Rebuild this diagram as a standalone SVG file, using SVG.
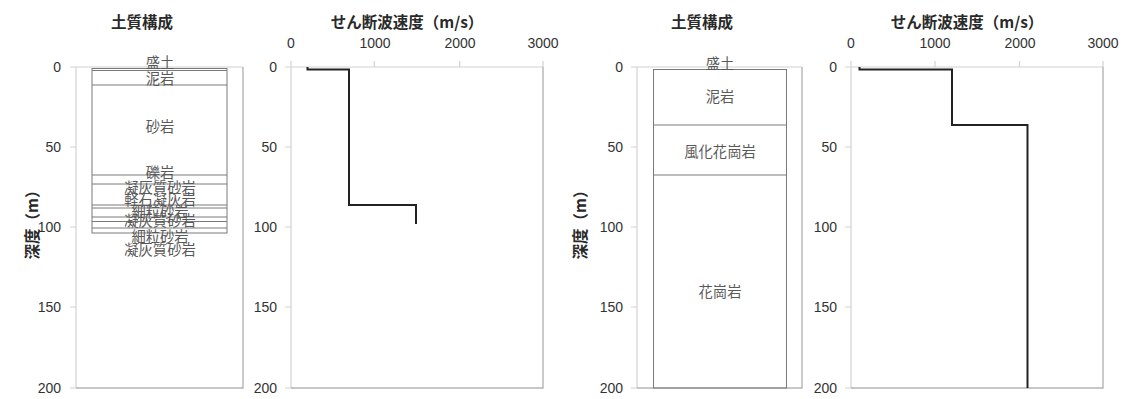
<svg xmlns="http://www.w3.org/2000/svg" width="1127" height="399" viewBox="0 0 1127 399">
<style>
.title{font-family:"Noto Sans CJK JP",sans-serif;font-size:15.5px;font-weight:bold;fill:#2a2a2a}
.tick{font-family:"Liberation Sans",sans-serif;font-size:14px;fill:#333}
.layer{font-family:"Noto Sans CJK JP",sans-serif;font-size:14.3px;fill:#5a5a5a;text-anchor:middle}
.axis{stroke:#d2d2d2;stroke-width:1.2;fill:none}
.frame{stroke:#b4b4b4;stroke-width:1.4;fill:none}
.soil{stroke:#7a7a7a;stroke-width:1;fill:none}
.vs{stroke:#222;stroke-width:2;fill:none;stroke-linejoin:miter}
</style>
<rect width="1127" height="399" fill="#fff"/>

<g id="soil-left">
  <text class="title" x="142" y="28" text-anchor="middle">土質構成</text>
  <text class="title" transform="translate(38,221) rotate(-90)" text-anchor="middle">深度（m）</text>
  <path class="axis" d="M76,67V388M70,67H243M70,147H76M70,227H76M70,307H76M70,388H76"/>
  <path class="frame" d="M243,67V388H76"/>
  <g class="tick" text-anchor="end">
    <text x="61" y="72">0</text><text x="61" y="152">50</text><text x="61" y="232">100</text><text x="61" y="312">150</text><text x="61" y="393">200</text>
  </g>
  <rect class="soil" x="92" y="68.5" width="135" height="164.5"/>
  <path class="soil" d="M92,70.5H227M92,85H227M92,175H227M92,184H227M92,205H227M92,208H227M92,217H227M92,221.5H227M92,228H227"/>
  <text class="layer" x="160" y="68">盛土</text>
  <text class="layer" x="160" y="84">泥岩</text>
  <text class="layer" x="160" y="132">砂岩</text>
  <text class="layer" x="160" y="177.5">礫岩</text>
  <text class="layer" x="160" y="193">凝灰質砂岩</text>
  <text class="layer" x="160" y="205">軽石凝灰岩</text>
  <text class="layer" x="160" y="216.5">細粒砂岩</text>
  <text class="layer" x="160" y="226">凝灰質砂岩</text>
  <text class="layer" x="160" y="241.5">細粒砂岩</text>
  <text class="layer" x="160" y="255">凝灰質砂岩</text>
</g>

<g id="vs-left">
  <text class="title" x="407" y="28" text-anchor="middle">せん断波速度（m/s）</text>
  <path class="axis" d="M291,61V388M285,67H543M374.3,61V67M459.7,61V67M543,61V67M285,147H291M285,227H291M285,307H291M285,388H291"/>
  <path class="frame" d="M543,67V388H291"/>
  <g class="tick" text-anchor="middle">
    <text x="291" y="48">0</text><text x="375" y="48">1000</text><text x="460" y="48">2000</text><text x="543" y="48">3000</text>
  </g>
  <g class="tick" text-anchor="end">
    <text x="277" y="72">0</text><text x="277" y="152">50</text><text x="277" y="232">100</text><text x="277" y="312">150</text><text x="277" y="393">200</text>
  </g>
</g>

<g id="soil-right">
  <text class="title" x="702" y="28" text-anchor="middle">土質構成</text>
  <text class="title" transform="translate(586,221) rotate(-90)" text-anchor="middle">深度（m）</text>
  <path class="axis" d="M637,67V388M631,67H802M631,147H637M631,227H637M631,307H637M631,388H637"/>
  <path class="frame" d="M802,67V388H637"/>
  <g class="tick" text-anchor="end">
    <text x="623" y="72">0</text><text x="623" y="152">50</text><text x="623" y="232">100</text><text x="623" y="312">150</text><text x="623" y="393">200</text>
  </g>
  <rect class="soil" x="653.5" y="69.5" width="133" height="318.5"/>
  <path class="soil" d="M653.5,125H786.5M653.5,175H786.5"/>
  <text class="layer" x="720" y="69">盛土</text>
  <text class="layer" x="720" y="102">泥岩</text>
  <text class="layer" x="720" y="157">風化花崗岩</text>
  <text class="layer" x="720" y="297">花崗岩</text>
</g>

<g id="vs-right">
  <text class="title" x="967" y="28" text-anchor="middle">せん断波速度（m/s）</text>
  <path class="axis" d="M851,61V388M845,67H1103M935,61V67M1019.5,61V67M1103,61V67M845,147H851M845,227H851M845,307H851M845,388H851"/>
  <path class="frame" d="M1103,67V388H851"/>
  <g class="tick" text-anchor="middle">
    <text x="851" y="48">0</text><text x="935" y="48">1000</text><text x="1020" y="48">2000</text><text x="1103" y="48">3000</text>
  </g>
  <g class="tick" text-anchor="end">
    <text x="837" y="72">0</text><text x="837" y="152">50</text><text x="837" y="232">100</text><text x="837" y="312">150</text><text x="837" y="393">200</text>
  </g>
</g>

<g id="connectors">
  <polyline class="vs" points="307.5,67 307.5,69.5 349,69.5 349,205 416,205 416,224"/>
  <polyline class="vs" points="859.5,67 859.5,69.5 952,69.5 952,125 1027.5,125 1027.5,388"/>
</g>
</svg>
